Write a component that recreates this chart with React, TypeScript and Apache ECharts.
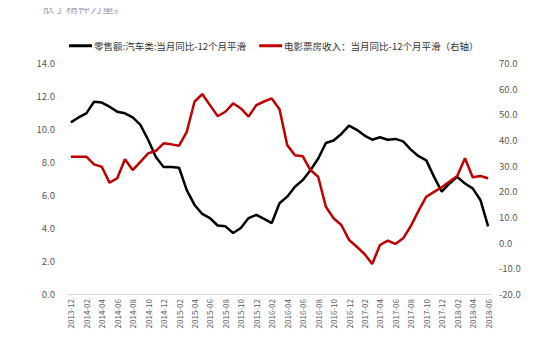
import React, { useEffect, useRef } from "react";
import * as echarts from "echarts";

const categories: string[] = (() => {
  const out: string[] = [];
  let y = 2013;
  let m = 12;
  for (let i = 0; i < 55; i++) {
    out.push(`${y}-${m < 10 ? "0" + m : m}`);
    m++;
    if (m > 12) {
      m = 1;
      y++;
    }
  }
  return out;
})();

const autoSales: number[] = [
  10.4, 10.7, 10.95, 11.65, 11.6, 11.35, 11.05, 10.95, 10.7, 10.25,
  9.35, 8.3, 7.7, 7.7, 7.65, 6.3, 5.4, 4.85, 4.6, 4.15,
  4.1, 3.7, 4.0, 4.6, 4.8, 4.55, 4.3, 5.5, 5.9, 6.5,
  6.9, 7.5, 8.2, 9.15, 9.3, 9.7, 10.2, 9.95, 9.6, 9.35,
  9.5, 9.35, 9.4, 9.25, 8.75, 8.35, 8.1, 7.1, 6.2, 6.7,
  7.1, 6.7, 6.4, 5.7, 4.1,
];

const boxOffice: number[] = [
  33.5, 33.5, 33.5, 30.5, 29.6, 23.4, 25.1, 32.5, 28.3, 31.5,
  34.8, 35.8, 38.7, 38.3, 37.8, 43.2, 54.9, 57.9, 53.6, 49.3,
  51, 54.3, 52.3, 49.1, 53.6, 55, 56.2, 52, 38, 34.1,
  33.7, 28.3, 25.7, 14, 9.5, 6.9, 1.1, -1.6, -4.4, -8.3,
  -0.9, 0.8, -0.5, 1.7, 6.5, 12.5, 17.9, 19.8, 21.6, 23.8,
  26, 32.9, 25.5, 26, 25.1,
];

const seriesNames: string[] = [
  "零售额:汽车类:当月同比-12个月平滑",
  "电影票房收入：当月同比-12个月平滑（右轴）",
];

const headerText = "依于精神力量。";

const FONT = "'Noto Sans CJK SC', 'Noto Sans', sans-serif";

export default function App() {
  const ref = useRef<HTMLDivElement>(null);
  useEffect(() => {
    if (!ref.current) return;
    const chart = echarts.init(ref.current, undefined, { renderer: "svg" });
    chart.setOption({
      animation: false,
      backgroundColor: "#ffffff",
      textStyle: { fontFamily: FONT },
      graphic: [
        {
          type: "text",
          left: 42,
          top: 1,
          style: {
            text: headerText,
            fontSize: 12,
            fontFamily: FONT,
            fill: "#aaa6b0",
          },
        },
      ],
      legend: {
        left: 64,
        top: 36,
        icon: "rect",
        itemWidth: 23,
        itemHeight: 3,
        itemGap: 13,
        textStyle: { fontSize: 9.5, color: "#333333", fontFamily: FONT, padding: [0, 0, 0, -3] },
        data: seriesNames,
      },
      grid: { left: 67, right: 58, top: 63, bottom: 59, containLabel: false },
      xAxis: {
        type: "category",
        data: categories,
        boundaryGap: true,
        axisLine: { show: true, lineStyle: { color: "#d9d9d9", width: 1 } },
        axisTick: { show: false },
        axisLabel: {
          rotate: 90,
          interval: 1,
          fontSize: 8,
          color: "#595959",
          margin: 5,
          fontFamily: FONT,
        },
        splitLine: { show: false },
      },
      yAxis: [
        {
          type: "value",
          min: 0,
          max: 14,
          interval: 2,
          axisLine: { show: false },
          axisTick: { show: false },
          splitLine: { show: false },
          axisLabel: {
            fontSize: 9.5,
            color: "#595959",
            margin: 12,
            formatter: (v: number) => v.toFixed(1),
            fontFamily: FONT,
          },
        },
        {
          type: "value",
          min: -20,
          max: 70,
          interval: 10,
          position: "right",
          axisLine: { show: false },
          axisTick: { show: false },
          splitLine: { show: false },
          axisLabel: {
            fontSize: 9.5,
            color: "#595959",
            margin: 7,
            formatter: (v: number) => v.toFixed(1),
            fontFamily: FONT,
          },
        },
      ],
      series: [
        {
          name: seriesNames[0],
          type: "line",
          data: autoSales,
          yAxisIndex: 0,
          symbol: "none",
          lineStyle: { color: "#000000", width: 2.5 },
          itemStyle: { color: "#000000" },
        },
        {
          name: seriesNames[1],
          type: "line",
          data: boxOffice,
          yAxisIndex: 1,
          symbol: "none",
          lineStyle: { color: "#c00000", width: 2.5 },
          itemStyle: { color: "#c00000" },
        },
      ],
    });
    return () => chart.dispose();
  }, []);
  return <div ref={ref} style={{ width: 550, height: 353, margin: -8 }} />;
}
